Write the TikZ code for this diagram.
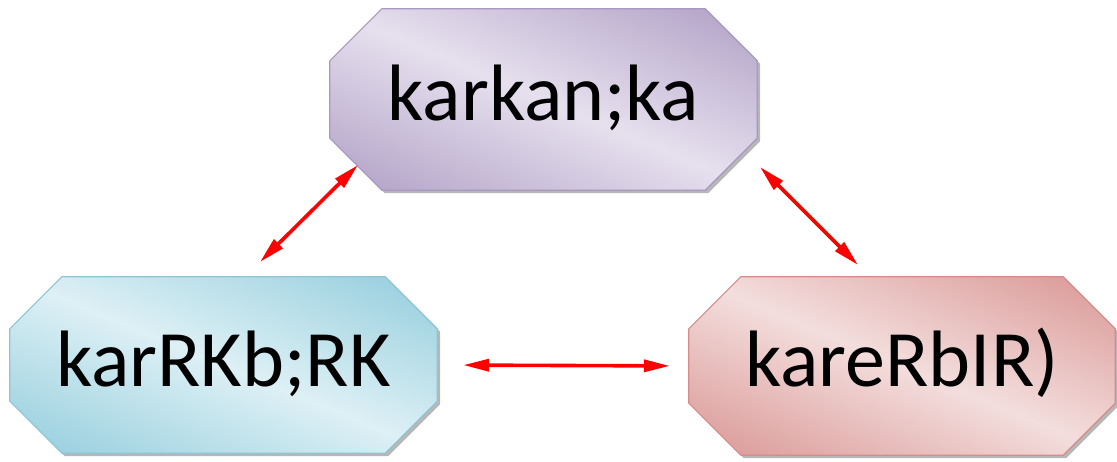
\documentclass[tikz,border=0pt]{standalone}
\usepackage{fontspec}
\setmainfont{Carlito}
\usetikzlibrary{arrows.meta,calc}
\pgfdeclarelayer{bg}
\pgfsetlayers{bg,main}
\definecolor{purD}{HTML}{B09FC5}
\definecolor{purL}{HTML}{E6E0EE}
\definecolor{purB}{HTML}{A898C2}
\definecolor{bluD}{HTML}{93CDDD}
\definecolor{bluL}{HTML}{DDF0F5}
\definecolor{bluB}{HTML}{8EC5D5}
\definecolor{redD}{HTML}{D99694}
\definecolor{redL}{HTML}{F3DEDD}
\definecolor{redB}{HTML}{D58D8B}
\pgfdeclareverticalshading{purSh}{100bp}{color(0bp)=(purD); color(25bp)=(purD); color(50bp)=(purL); color(75bp)=(purD); color(100bp)=(purD)}
\pgfdeclareverticalshading{bluSh}{100bp}{color(0bp)=(bluD); color(25bp)=(bluD); color(50bp)=(bluL); color(75bp)=(bluD); color(100bp)=(bluD)}
\pgfdeclareverticalshading{redSh}{100bp}{color(0bp)=(redD); color(25bp)=(redD); color(50bp)=(redL); color(75bp)=(redD); color(100bp)=(redD)}
\newcommand\octpath[1]{($(#1.north west)+(52pt,0pt)$) -- ($(#1.north east)+(-52pt,0pt)$) -- ($(#1.north east)+(0pt,-52pt)$) -- ($(#1.south east)+(0pt,52pt)$) -- ($(#1.south east)+(-52pt,0pt)$) -- ($(#1.south west)+(52pt,0pt)$) -- ($(#1.south west)+(0pt,52pt)$) -- ($(#1.north west)+(0pt,-52pt)$) -- cycle}
\tikzset{
  boxnode/.style={rectangle, inner sep=0pt, minimum width=427pt, text height=53pt, text depth=11pt,
    font=\fontsize{80}{84}\selectfont},
  shadowfill/.style={fill=black!40, fill opacity=0.7, transform canvas={shift={(3pt,-3pt)}}},
  tipA/.tip={Triangle[length=26pt,width=12pt]},
  arr/.style={draw=red, line width=3.6pt, tipA-tipA}
}
% #1 node, #2 shading, #3 border, #4 cx, #5 cy(canvas), #6 xscale, #7 yscale
\newcommand\octshape[7]{%
  \path[shadowfill] \octpath{#1};
  \begin{scope}
    \clip \octpath{#1};
    \shade[shading=#2, transform canvas={shift={(#4pt,#5pt)}, xscale=#6, yscale=#7, rotate=-45}]
      (-71pt,-71pt) rectangle (71pt,71pt);
  \end{scope}
  \draw[#3, line width=1.2pt] \octpath{#1};
}
\begin{document}
\begin{tikzpicture}[x=1pt,y=-1pt]
\useasboundingbox (0,0) rectangle (1117,462);
\node[boxnode, minimum height=181pt] (top) at (543.5,99.5) {karkan;ka};
\node[boxnode, minimum height=176pt] (left) at (223.5,365) {karRKb;RK};
\node[boxnode, minimum height=178pt, minimum width=426pt] (right) at (902,366) {kareRbIR)};
\begin{pgfonlayer}{bg}
\octshape{top}{purSh}{purB}{543.5}{-99.5}{4.27}{1.81}
\octshape{left}{bluSh}{bluB}{223.5}{-365}{4.27}{1.76}
\octshape{right}{redSh}{redB}{902}{-366}{4.26}{1.78}
\end{pgfonlayer}
\coordinate (a1) at (358,165);
\coordinate (a2) at (260,262);
\coordinate (b1) at (760,167);
\coordinate (b2) at (858,265);
\draw[arr] (a1) -- (a2);
\draw[arr] (b1) -- (b2);
\draw[arr, shorten <=26pt, shorten >=19pt] (left.east) -- (right.west);
\end{tikzpicture}
\end{document}
